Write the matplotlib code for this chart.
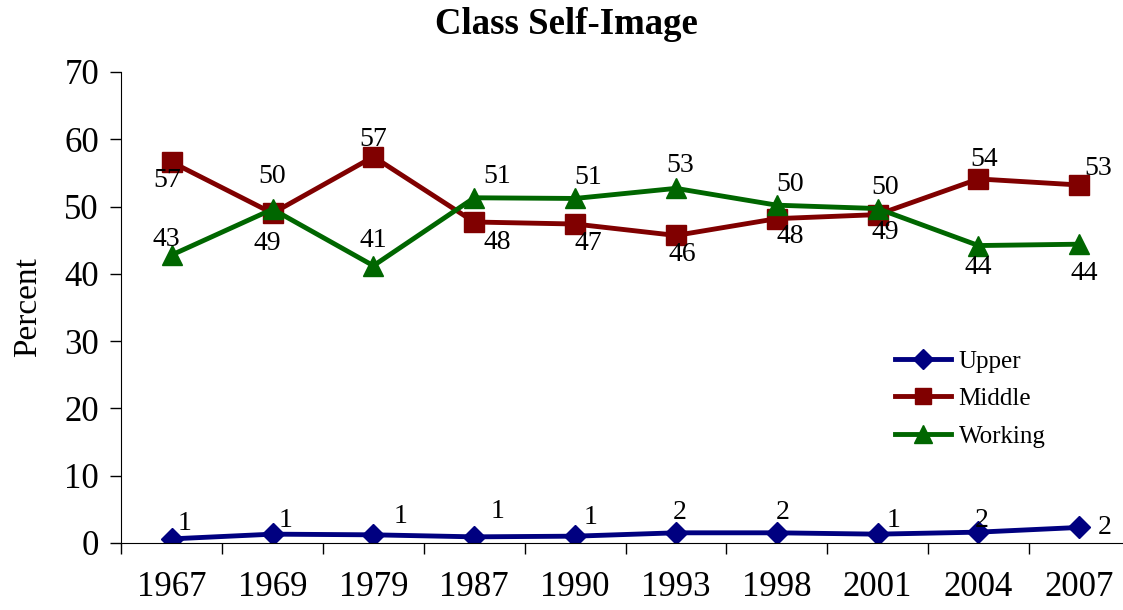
import numpy as np
import matplotlib.pyplot as plt

plt.rcParams['font.family'] = ['Liberation Serif', 'DejaVu Serif']

years = ['1967', '1969', '1979', '1987', '1990', '1993', '1998', '2001', '2004', '2007']
upper = [0.6, 1.3, 1.2, 0.9, 1.0, 1.5, 1.5, 1.3, 1.6, 2.3]
middle = [56.6, 49.0, 57.4, 47.7, 47.4, 45.7, 48.2, 48.8, 54.1, 53.2]
working = [42.8, 49.6, 41.2, 51.3, 51.2, 52.7, 50.2, 49.7, 44.2, 44.4]

# label offsets in pixels (x right, y up)
upper_off = [(13, 15), (13, 14), (27, 18), (23, 25), (15, 19),
             (4, 20), (6, 20), (16, 14), (3, 12), (25, 0)]
middle_off = [(-5, -18), (-5, -30), (0, 17), (23, -20), (13, -19),
              (6, -19), (13, -18), (8, -18), (6, 19), (19, 17)]
working_off = [(-5, 15), (0, 33), (0, 25), (23, 21), (13, 21),
               (4, 23), (13, 21), (8, 21), (0, -22), (5, -29)]

fig = plt.figure(figsize=(11.23, 6.10), dpi=100)
ax = fig.add_axes([0.108, 0.110, 0.898, 0.772])
x = np.arange(len(years))

series = [
    ('Upper', upper, '#000080', 'D', 11.5, upper_off),
    ('Middle', middle, '#800000', 's', 14, middle_off),
    ('Working', working, '#006600', '^', 15, working_off),
]
for name, vals, col, mk, ms, offs in series:
    ax.plot(x, vals, color=col, lw=3.5, marker=mk, ms=ms, label=name)
    for xi, v, (dx, dy) in zip(x, vals, offs):
        ax.annotate(f"{v:.0f}", (xi, v), xytext=(dx, dy),
                    textcoords='offset pixels', ha='center', va='center',
                    fontsize=20, color='black')

ax.set_xlim(-0.5, len(years) - 0.5)
ax.set_ylim(0, 70)
ax.set_yticks(range(0, 71, 10))
ax.set_xticks(x)
ax.set_xticklabels(years)
ax.set_xticks(np.arange(-0.5, len(years), 1), minor=True)
ax.tick_params(axis='x', which='major', length=0, pad=20, labelsize=25)
ax.tick_params(axis='x', which='minor', length=8, width=1, direction='out')
ax.tick_params(axis='y', length=8, width=1, direction='out', pad=8, labelsize=25)
for s in ['top', 'right']:
    ax.spines[s].set_visible(False)
ax.set_ylabel('Percent', fontsize=24, labelpad=15)
fig.suptitle('Class Self-Image', x=0.504, y=0.96, va='center',
             fontsize=26.5, fontweight='bold')

ax.legend(loc='center left', bbox_to_anchor=(0.767, 0.306), frameon=False,
          fontsize=18, handlelength=2.25, handletextpad=0.3, labelspacing=0.6,
          borderpad=0, borderaxespad=0, markerscale=0.85)

fig.savefig('out.png', dpi=100)
plt.close(fig)
